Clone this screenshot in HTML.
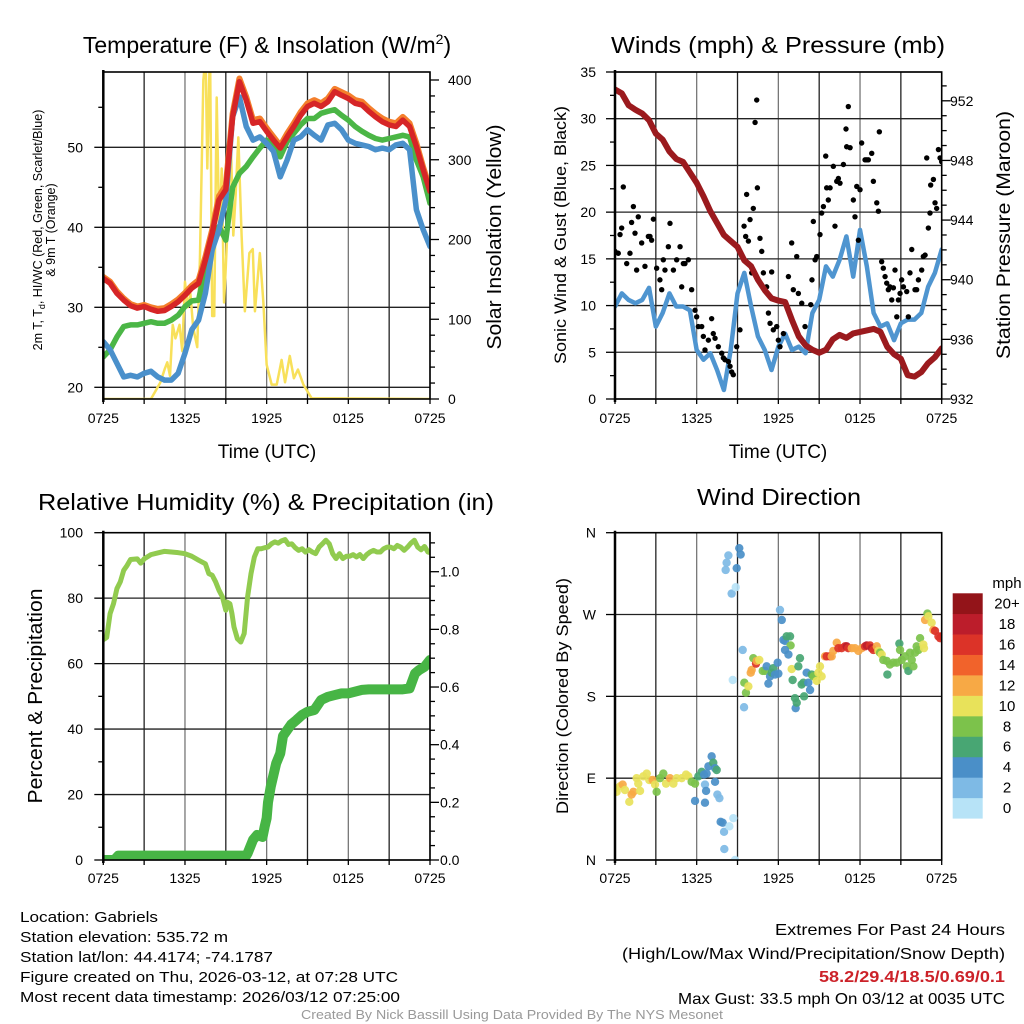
<!DOCTYPE html>
<html><head><meta charset="utf-8"><style>
html,body{margin:0;padding:0;background:#fff}
svg{display:block;font-family:"Liberation Sans",sans-serif}
</style></head><body>
<svg id="fig" width="1024" height="1024" viewBox="0 0 1024 1024" xmlns="http://www.w3.org/2000/svg">
<defs>
<clipPath id="c1"><rect x="103.3" y="72" width="326.7" height="327"/></clipPath>
<clipPath id="c2"><rect x="615" y="72" width="326.7" height="327"/></clipPath>
<clipPath id="c3"><rect x="103.3" y="532.7" width="326.7" height="327.3"/></clipPath>
<clipPath id="c4"><rect x="615" y="532.7" width="326.7" height="327.3"/></clipPath>
</defs>
<g id="grids"></g>
<g id="marks"></g>
<g id="axes"></g>
<g fill="#000">
<text x="267" y="53" font-size="23" text-anchor="middle">Temperature (F) &amp; Insolation (W/m<tspan font-size="14" dy="-9">2</tspan><tspan dy="9">)</tspan></text>
<text x="778" y="53" font-size="23" text-anchor="middle" textLength="334" lengthAdjust="spacingAndGlyphs">Winds (mph) &amp; Pressure (mb)</text>
<text x="266" y="510" font-size="23" text-anchor="middle" textLength="456" lengthAdjust="spacingAndGlyphs">Relative Humidity (%) &amp; Precipitation (in)</text>
<text x="779" y="505" font-size="23" text-anchor="middle" textLength="164" lengthAdjust="spacingAndGlyphs">Wind Direction</text>
<text x="267" y="458" font-size="19" text-anchor="middle">Time (UTC)</text>
<text x="778" y="458" font-size="19" text-anchor="middle">Time (UTC)</text>
<text transform="translate(42,230) rotate(-90)" font-size="12.5" text-anchor="middle">2m T, T<tspan font-size="9" dy="3">d</tspan><tspan dy="-3">, HI/WC (Red, Green, Scarlet/Blue)</tspan></text>
<text transform="translate(55,230) rotate(-90)" font-size="12.5" text-anchor="middle">&amp; 9m T (Orange)</text>
<text transform="translate(501,237) rotate(-90)" font-size="20" text-anchor="middle" textLength="225" lengthAdjust="spacingAndGlyphs">Solar Insolation (Yellow)</text>
<text transform="translate(566,235) rotate(-90)" font-size="17" text-anchor="middle" textLength="258" lengthAdjust="spacingAndGlyphs">Sonic Wind &amp; Gust (Blue, Black)</text>
<text transform="translate(1010,235) rotate(-90)" font-size="19" text-anchor="middle" textLength="248" lengthAdjust="spacingAndGlyphs">Station Pressure (Maroon)</text>
<text transform="translate(42,696) rotate(-90)" font-size="20" text-anchor="middle" textLength="215" lengthAdjust="spacingAndGlyphs">Percent &amp; Precipitation</text>
<text transform="translate(568,696) rotate(-90)" font-size="16.5" text-anchor="middle" textLength="236" lengthAdjust="spacingAndGlyphs">Direction (Colored By Speed)</text>
</g>
<g font-size="15" fill="#000">
<text x="20" y="922" textLength="138" lengthAdjust="spacingAndGlyphs">Location: Gabriels</text>
<text x="20" y="942" textLength="208" lengthAdjust="spacingAndGlyphs">Station elevation: 535.72 m</text>
<text x="20" y="962" textLength="253" lengthAdjust="spacingAndGlyphs">Station lat/lon: 44.4174; -74.1787</text>
<text x="20" y="982" textLength="378" lengthAdjust="spacingAndGlyphs">Figure created on Thu, 2026-03-12, at 07:28 UTC</text>
<text x="20" y="1002" textLength="380" lengthAdjust="spacingAndGlyphs">Most recent data timestamp: 2026/03/12 07:25:00</text>
</g>
<g font-size="16" fill="#000" text-anchor="end">
<text x="1005" y="935" textLength="230" lengthAdjust="spacingAndGlyphs">Extremes For Past 24 Hours</text>
<text x="1005" y="959" textLength="383" lengthAdjust="spacingAndGlyphs">(High/Low/Max Wind/Precipitation/Snow Depth)</text>
<text x="1005" y="982" fill="#cc2229" font-weight="bold" textLength="186" lengthAdjust="spacingAndGlyphs">58.2/29.4/18.5/0.69/0.1</text>
<text x="1005" y="1004" textLength="327" lengthAdjust="spacingAndGlyphs">Max Gust: 33.5 mph On 03/12 at 0035 UTC</text>
</g>
<text x="512" y="1019" font-size="12.5" fill="#999" text-anchor="middle" textLength="422" lengthAdjust="spacingAndGlyphs">Created By Nick Bassill Using Data Provided By The NYS Mesonet</text>
</svg>
<script>
// ===== Data =====
const timeTickLabels = ["0725","1325","1925","0125","0725"];
const halfHours = [0,0.5,1,1.5,2,2.5,3,3.5,4,4.5,5,5.5,6,6.5,7,7.5,8,8.5,9,9.5,10,10.5,11,11.5,12,12.5,13,13.5,14,14.5,15,15.5,16,16.5,17,17.5,18,18.5,19,19.5,20,20.5,21,21.5,22,22.5,23,23.5,24];
const tempF = [33.6,33,31.75,30.9,30.2,29.9,30.1,29.75,29.5,29.6,30.1,30.7,31.5,32.4,33,35.9,39.25,43.4,44.7,53.8,58.2,55.9,53,53.2,52,50.9,49.9,51.3,52.6,54,55.1,55.5,55.1,55.7,56.95,56.5,56.1,55.5,55.3,54.5,53.8,53.2,52.8,52.6,53.4,52.6,50.1,47.2,44.5];
const temp9mF = [33.8,33.2,32,31.1,30.4,30.1,30.3,30,29.8,29.9,30.4,31,31.8,32.7,33.4,36.3,39.7,43.9,45.2,54.2,58.6,56.3,53.4,53.6,52.4,51.3,50.2,51.7,53,54.4,55.5,55.9,55.5,56.1,57.3,56.9,56.5,55.9,55.7,54.9,54.2,53.6,53.2,53,53.8,53,50.5,47.5,44.8];
const windChillF = [25.7,24.7,23,21.3,21.5,21.3,21.75,22,21.3,20.9,20.9,21.75,24.25,27.2,28.4,31.75,37.2,39.7,43.4,53.8,56.3,52.6,50.9,51.3,50.5,49.5,46.3,48.4,50.9,51.3,52.2,51.5,50.9,52.8,53,52.2,50.9,50.5,50.3,50.1,49.7,49.9,49.7,50.3,50.5,49.7,42.2,39.7,37.6];
const dewpointF = [23.8,24.7,26.3,27.6,27.8,27.8,28,28.2,28,28,28.4,29,30.1,30.8,30.9,35.1,37.6,40.1,38.4,45,46.75,47.6,48.8,49.9,50.9,50.3,48.8,50.7,51.75,52.8,53.6,53.6,54.25,54.5,54.7,54,53.4,52.6,52,51.5,51.1,50.9,51.1,51.3,51.5,51.3,48.4,46.3,43];
const solarHours = [0,3.4,3.5,3.8,4.2,4.5,4.7,4.9,5.1,5.3,5.6,5.8,6,6.2,6.4,6.6,6.9,7.1,7.35,7.52,7.64,7.84,8.0,8.15,8.33,8.52,8.7,8.87,9.0,9.2,9.36,9.55,9.72,9.92,10.16,10.4,10.73,10.98,11.14,11.5,11.76,12,12.37,12.74,13.1,13.35,13.7,14.0,14.3,14.7,15.3,24];
const solarWm2 = [0,0,0,9,21,37,46,29,93,76,93,60,147,115,132,90,65,177,400,430,289,445,104,104,378,205,289,121,166,244,328,205,255,328,205,110,183,188,110,183,121,43,18,18,49,21,54,26,37,18,1,0];
const windHalfHour = [9.9,11.3,10.6,10.25,10.6,11.9,7.75,9.2,11.3,9.9,9.9,9.5,5.25,4.2,4.9,3.1,0.96,5.25,11.3,13.5,9.9,6.7,5.25,3.1,5.6,7,5.25,5.6,4.9,9.2,10.6,14.2,13.1,14.9,17.4,13.1,18.1,14.2,9.2,7.75,8.1,6.3,8.1,8.5,8.5,9.2,12,13.5,16];
const pressureMb = [952.76,952.5,951.7,951.4,951.15,950.7,949.8,949.4,948.6,948.1,947.9,947.2,946.5,945.6,944.6,943.8,943,942.6,942.2,941.3,940.9,940,939.3,938.75,938.6,938.5,937.3,936.2,935.6,935.3,935.1,935.3,936,936.3,936.1,936.4,936.5,936.6,936.7,936.5,935.5,935,934.7,933.6,933.5,933.8,934.4,934.8,935.4];
const gustHours = [0,0.24,0.49,0.61,0.86,1.1,1.22,1.47,1.59,1.71,1.96,2.2,2.45,2.69,2.82,3.06,3.3,3.43,3.67,3.92,4.04,4.29,4.53,4.78,4.9,5.14,5.39,5.63,5.88,6.12,6.37,6.61,6.86,7.1,7.35,7.59,7.84,8.08,8.33,8.57,8.69,8.94,9.18,9.48,9.67,9.92,10.04,10.16,10.29,10.41,10.46,10.65,10.9,11.14,11.27,11.51,11.63,11.88,12.12,12.37,12.74,12.98,13.1,13.47,13.72,13.96,14.38,14.47,14.57,14.82,15.06,15.31,15.48,15.55,15.8,16.04,16.16,16.29,16.53,16.78,16.97,17.14,17.27,17.51,17.76,17.88,18.12,18.37,18.61,18.86,18.98,19.23,19.35,19.42,19.59,19.84,20.08,20.33,20.57,20.7,20.94,21.19,21.43,21.55,21.8,22.04,22.29,22.53,22.78,22.9,23.02,23.19,23.39,23.63,23.76,24.0,0.37,1.35,2.57,3.55,5.02,6.0,6.49,7.22,7.96,8.45,9.6,9.8,10.78,11.39,12.0,13.35,14.7,15.18,15.67,16.41,17.02,17.63,18.0,18.49,19.71,19.96,20.2,20.45,20.82,21.06,21.67,22.16,22.65,23.14,23.51,23.88];
const gustMph = [15.8,15.6,18.3,22.7,14.5,15.6,18.9,17.75,13.8,19.5,16.7,14.2,17.4,17,19.25,14,12.75,11.7,13.8,16.3,18.8,13.8,14.9,16.3,12,14.5,14.9,11.7,9.5,7.75,7.75,5.25,6.3,8.6,6.5,5.6,4.9,4.2,4,2.9,2.6,5.6,7.4,18.5,21.9,19.2,13.5,20.4,29.6,32,22.6,17.2,13.5,12,9.2,13.6,7.4,7.75,5.6,7,13.1,16.7,11.7,11.3,10.25,7.75,10.1,12.75,19,15.25,17.6,20.6,26,22.6,22.6,24.9,18.5,23.3,23.1,25.1,28.9,31.3,26.9,21.3,22.75,17,27.4,25.6,25.6,26.3,23.3,21,20.1,28.6,14.7,13.1,11.7,10.6,13.8,8.8,11.3,12,11.5,8.8,16,11.7,12.75,13.8,15.4,25.8,18.3,22.9,23.5,20.4,26.7,25.4,17.6,20.6,17.4,14.9,14.5,8.8,6.7,7,4.4,3.5,17.4,16.9,15.8,8.1,6.3,15.25,14.9,19.9,21.3,23.6,27,19.5,22.4,25.6,14,12.4,12,11.9,10.6,12.75,13.5,11.7,15.25,19.9,21,25.8];
const rhHours = [0,0.25,0.5,0.75,1,1.25,1.5,1.75,2,2.5,2.75,3,3.5,4,4.5,5,5.5,6,6.5,7,7.5,7.75,8,8.25,8.5,8.75,9,9.1,9.3,9.45,9.6,9.85,10.1,10.35,10.6,10.85,11.1,11.35,11.6,11.85,12.1,12.35,12.6,12.85,13.1,13.35,13.6,13.85,14.1,14.35,14.6,14.85,15.1,15.35,15.6,15.85,16.1,16.35,16.6,16.85,17.1,17.35,17.6,17.85,18.1,18.35,18.6,18.85,19.1,19.35,19.6,19.85,20.1,20.35,20.6,20.85,21.1,21.35,21.6,21.85,22.1,22.35,22.6,22.85,23.1,23.35,23.6,23.85,24];
const rhPercent = [67.3,68,75.3,78.3,82.9,85,88.5,90,91.8,92,90.7,92,93.3,93.8,94.3,94.1,93.9,93.6,92.8,91.6,90.5,87.5,87,85,82.4,80.4,76.3,78.8,78.3,75.3,71.2,67.6,66.6,69.2,80.4,87.5,92.6,95.1,95.1,95.4,95.6,96.6,97.2,96.8,97.5,97.9,96.4,96.6,95.4,94.6,95.1,94.1,94.8,94.1,93.6,95.6,96.6,97.7,96.6,93.6,92.1,93.6,92.1,92.8,92.8,93.3,92.6,93.3,92.1,93.3,94.1,94.6,94.1,94.1,95.1,95.6,95.6,95.1,96.1,95.6,94.6,95.6,96.8,97.7,95.6,94.8,95.8,94.1,93.9];
const precipHours = [0,0.8,1.1,10.5,10.6,11,11.3,11.7,11.85,12,12.1,12.3,12.7,13,13.2,13.5,13.8,14.2,14.6,15,15.5,16,16.5,17,17.5,18,18.5,19,19.5,20,21,22,22.5,22.9,23.2,23.6,24];
const precipIn = [0,0,0.015,0.015,0.023,0.07,0.087,0.08,0.115,0.145,0.2,0.254,0.335,0.37,0.43,0.45,0.47,0.486,0.503,0.514,0.52,0.555,0.566,0.572,0.578,0.578,0.584,0.59,0.592,0.592,0.592,0.592,0.595,0.647,0.659,0.67,0.694];
const dirHours = [0,0.12,0.37,0.56,0.73,1.05,1.22,1.35,1.59,1.71,1.84,2.08,2.33,2.52,2.77,2.94,3.06,3.31,3.55,3.75,4.04,4.29,4.53,4.9,5.22,5.39,5.63,5.88,6.12,6.37,6.54,6.73,6.86,7.1,7.22,7.35,7.47,7.35,6.61,6.69,5.88,6.61,7.52,7.67,7.76,7.91,8.01,8.4,8.69,8.03,8.82,8.33,8.2,8.13,8.94,9.13,9.23,8.57,8.87,9.38,8.65,9.48,9.5,9.62,9.8,9.97,10.04,10.16,10.36,10.41,10.6,10.85,11.02,11.14,11.27,11.39,11.51,11.63,11.76,11.95,12.0,12.12,12.25,12.37,12.49,12.61,12.86,12.9,12.49,12.74,12.98,13.05,13.22,13.27,13.35,13.47,13.59,13.71,13.84,13.89,14.08,14.2,14.33,14.45,14.57,14.82,14.94,15.06,15.18,15.43,15.55,15.8,15.92,16.04,16.29,16.41,16.65,16.9,17.02,17.14,17.39,17.63,17.88,18.12,18.37,18.49,18.73,18.86,18.98,19.23,19.35,19.47,19.59,19.71,19.96,20.01,20.2,20.45,20.7,20.89,20.94,21.06,21.31,21.43,21.55,21.67,21.8,21.92,22.04,22.16,22.29,22.41,22.65,22.7,22.78,22.95,23.02,23.26,23.39,23.51,23.76,23.88,24.0];
const dirDeg = [79,75,81,83,77,64,72,75,90,84,76,92,95,88,88,83,75,90,95,84,90,84,90,90,94,92,86,84,92,97,94,95,103,114,107,101,99,86,83,76,65,63,72,68,42,41,31,37,46,12,0,335,327,319,321,343,336,293,300,231,198,168,195,184,191,206,209,222,216,219,220,208,208,213,194,202,206,211,204,217,205,275,264,242,241,246,246,236,231,226,210,198,178,167,173,213,222,193,195,180,206,195,187,204,202,197,206,213,202,224,224,224,224,230,239,233,233,235,235,233,233,233,230,233,235,236,236,233,231,235,230,228,226,220,219,204,215,217,217,238,231,220,224,213,208,228,220,213,228,235,231,244,237,233,264,271,268,261,253,252,246,244,246];
const dirSpeed = [10,10,10,12,10,10,12,12,10,10,10,10,10,10,12,10,8,8,8,10,12,10,10,10,10,10,8,8,6,6,4,4,4,4,6,4,6,4,2,4,4,4,2,2,4,4,2,0,0,2,0,2,2,2,4,4,4,2,0,2,0,2,8,8,10,12,12,8,16,12,10,8,8,4,4,4,6,6,4,4,4,2,4,4,4,6,6,8,4,4,10,6,6,4,6,6,6,6,6,6,4,4,4,6,8,10,10,10,10,12,16,16,12,12,12,16,16,16,18,16,12,12,12,12,16,18,16,18,16,12,10,8,10,8,8,6,8,8,8,6,8,8,8,8,6,8,8,8,8,8,8,8,10,10,12,8,10,10,12,16,16,16,16];
const speedBinLabels = ["0","2","4","6","8","10","12","14","16","18","20+"];
const speedBinColors = ["#b7e3f7","#7ebae5","#4a8fc8","#48a673","#7cc24b","#e8e25a","#f7a945","#f1632b","#dc3328","#bc1d2b","#931419"];

// ===== Scales =====
const HPX = 326.7/24;
const x1 = h => 103.3 + h*HPX;
const x2 = h => 615 + h*HPX;
const yTemp = v => 387.3 - (v-20)*8;
const ySolar = v => 399 - v*0.7975;
const yWind = v => 399 - v*9.343;
const yPres = p => 399 - (p-932)*14.91;
const yRH = v => 860 - v*3.273;
const yPrecip = v => 860 - v*288.3;
const yDir = d => 860 - d*(327.3/360);

const NS = "http://www.w3.org/2000/svg";
function mk(tag, attrs, parent){
  const e = document.createElementNS(NS, tag);
  for (const k in attrs) e.setAttribute(k, attrs[k]);
  parent.appendChild(e); return e;
}
const grids = document.getElementById('grids');
const marks = document.getElementById('marks');
const axes = document.getElementById('axes');

function linePath(xs, ys, sx, sy){
  let d = '';
  for (let i=0;i<xs.length;i++) d += (i?'L':'M') + sx(xs[i]).toFixed(2) + ',' + sy(ys[i]).toFixed(2);
  return d;
}

// ===== Grids & axes =====
function panelFrame(L, T, R, B, hLines, name){
  for (let k=0;k<=8;k++){
    const x = L + k*(R-L)/8;
    const gl = mk('line',{x1:x,y1:T,x2:x,y2:B,stroke:(k%2? '#222':'#777'),'stroke-width':1.3},grids);
    
    
    const tk = mk('line',{x1:x,y1:B,x2:x,y2:B+5,stroke:'#000','stroke-width':1.3},axes);
    
    
  }
  hLines.forEach(y=>{
    const gl = mk('line',{x1:L,y1:y,x2:R,y2:y,stroke:'#222','stroke-width':1.3},grids);
    
    
  });
  const fr = mk('rect',{x:L,y:T,width:R-L,height:B-T,fill:'none',stroke:'#000','stroke-width':1.6},axes);
  
  
  mk('line',{x1:L,y1:T-2,x2:L,y2:B+3,stroke:'#000','stroke-width':2.5},axes);
  for (let k=0;k<5;k++){
    const t = mk('text',{x:L + k*(R-L)/4, y:(B>500?883:423),'font-size':14,'text-anchor':'middle'},axes);
    t.textContent = timeTickLabels[k];
    
    
  }
}
function yTicks(vals, labels, sy, axisX, dir, anchorX, anchor, name, len){
  vals.forEach((v,i)=>{
    const y = sy(v);
    const t = mk('line',{x1:axisX,y1:y,x2:axisX+dir*(len||9),y2:y,stroke:'#000','stroke-width':1.3},axes);
    
    
    if (labels){
      const tx = mk('text',{x:anchorX,y:y+5,'font-size':14,'text-anchor':anchor},axes);
      tx.textContent = labels[i];
      
      
    }
  });
}
const tempTicks=[20,30,40,50], tempLabels=["20","30","40","50"];
const solarTicks=[0,100,200,300,400], solarLabels=["0","100","200","300","400"];
const windTicks=[0,5,10,15,20,25,30,35], windLabels=["0","5","10","15","20","25","30","35"];
const presTicks=[932,936,940,944,948,952], presLabels=["932","936","940","944","948","952"];
const rhTicks=[0,20,40,60,80,100], rhLabels=["0","20","40","60","80","100"];
const prTicks=[0,0.2,0.4,0.6,0.8,1.0], prLabels=["0.0","0.2","0.4","0.6","0.8","1.0"];
const dirTicks=[0,90,180,270,360], dirLabels=["N","E","S","W","N"];

panelFrame(103.3,72,430,399,tempTicks.map(yTemp),'temp');
yTicks(tempTicks,tempLabels,yTemp,103.3,-1,83,'end','temp-y');
yTicks([25,35,45,55],null,yTemp,103.3,-1,0,'end','temp-y-minor',5);
yTicks(solarTicks,solarLabels,ySolar,430,1,448,'start','solar-y');
yTicks([20,40,60,80,120,140,160,180,220,240,260,280,320,340,360,380],null,ySolar,430,1,0,'start','solar-y-minor',5);

panelFrame(615,72,941.7,399,windTicks.map(yWind),'wind');
yTicks(windTicks,windLabels,yWind,615,-1,596,'end','wind-y');
yTicks([2.5,7.5,12.5,17.5,22.5,27.5,32.5],null,yWind,615,-1,0,'end','wind-y-minor',5);
yTicks(presTicks,presLabels,yPres,941.7,1,950,'start','pres-y');
yTicks([933,934,935,937,938,939,941,942,943,945,946,947,949,950,951,953],null,yPres,941.7,1,0,'start','pres-y-minor',5);

panelFrame(103.3,532.7,430,860,rhTicks.map(yRH),'rh');
yTicks(rhTicks,rhLabels,yRH,103.3,-1,83,'end','rh-y');
yTicks([10,30,50,70,90],null,yRH,103.3,-1,0,'end','rh-y-minor',5);
yTicks(prTicks,prLabels,yPrecip,430,1,440,'start','precip-y');
yTicks([0.05,0.1,0.15,0.25,0.3,0.35,0.45,0.5,0.55,0.65,0.7,0.75,0.85,0.9,0.95,1.05,1.1],null,yPrecip,430,1,0,'start','precip-y-minor',5);

panelFrame(615,532.7,941.7,860,dirTicks.map(yDir),'dir');
yTicks(dirTicks,dirLabels,yDir,615,-1,596,'end','dir-y');

// ===== Marks =====
const g1 = mk('g',{'clip-path':'url(#c1)'},marks);


function series(g, xs, ys, sx, sy, color, w, name, extra){
  const p = mk('path',Object.assign({d:linePath(xs,ys,sx,sy),fill:'none',stroke:color,'stroke-width':w,'stroke-linejoin':'round','stroke-linecap':'round'},extra||{}),g);
  
  
  return p;
}
series(g1, solarHours, solarWm2, x1, ySolar, '#f8e05a', 2.5, 'solar-insolation-line');
series(g1, halfHours, dewpointF, x1, yTemp, '#4bb646', 5.5, 'dewpoint-line');
series(g1, halfHours, windChillF, x1, yTemp, '#4a90cb', 5.5, 'wind-chill-line');
series(g1, halfHours, temp9mF, x1, yTemp, '#f47f2c', 6, 'temp-9m-line');
series(g1, halfHours, tempF, x1, yTemp, '#d62527', 5.5, 'temp-2m-line');

const g2 = mk('g',{'clip-path':'url(#c2)'},marks);


series(g2, halfHours, windHalfHour, x2, yWind, '#4f95d0', 4.5, 'sonic-wind-line');
gustHours.forEach((h,i)=>{
  const c = mk('circle',{cx:x2(h).toFixed(2),cy:yWind(gustMph[i]).toFixed(2),r:2.7,fill:'#000'},g2);
  
  
});
series(g2, halfHours, pressureMb, x2, yPres, '#9b1a1e', 6, 'pressure-line');

const g3 = mk('g',{'clip-path':'url(#c3)'},marks);


series(g3, rhHours, rhPercent, x1, yRH, '#91cb4f', 5, 'relative-humidity-line');
series(g3, precipHours, precipIn, x1, yPrecip, '#47b545', 10, 'precipitation-line');

const g4 = mk('g',{'clip-path':'url(#c4)'},marks);


dirHours.forEach((h,i)=>{
  const bin = Math.min(10, Math.round(dirSpeed[i]/2));
  const c = mk('circle',{cx:x2(h).toFixed(2),cy:yDir(dirDeg[i]).toFixed(2),r:4.2,fill:speedBinColors[bin],'fill-opacity':0.92},g4);
  
  
});

// ===== Colorbar =====
const cb = mk('g',{},marks);


const cbTop = 593.3, cbH = 225/11;
speedBinLabels.forEach((lab,i)=>{
  const k = 10 - i;
  const y = cbTop + k*cbH;
  const r = mk('rect',{x:952.7,y:y.toFixed(2),width:30,height:(cbH+0.3).toFixed(2),fill:speedBinColors[i]},cb);
  
  
  const t = mk('text',{x:1007,y:(y+cbH/2+5).toFixed(2),'font-size':15,'text-anchor':'middle'},cb);
  t.textContent = lab;
  
  
});
const mph = mk('text',{x:1007,y:588,'font-size':15,'text-anchor':'middle'},cb);
mph.textContent = 'mph';


</script>
</body></html>
